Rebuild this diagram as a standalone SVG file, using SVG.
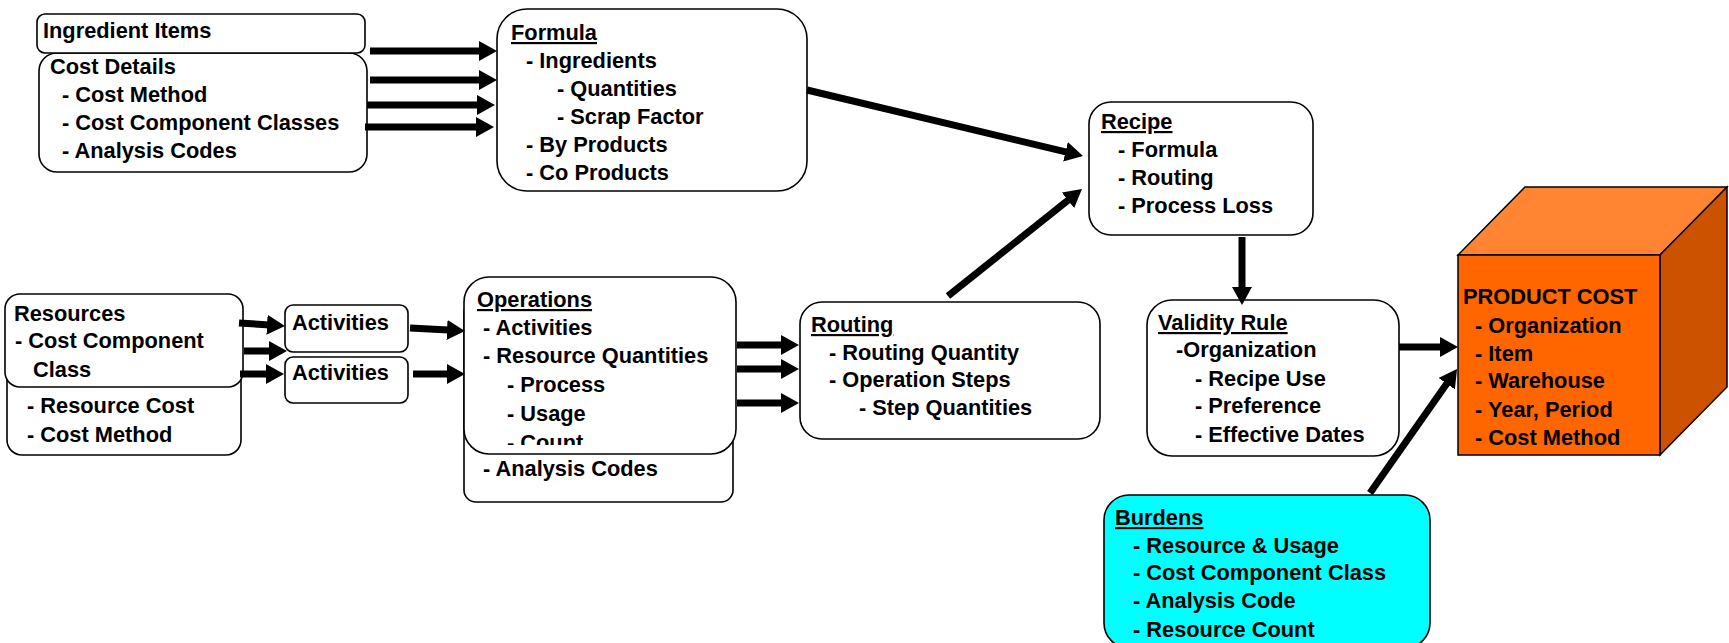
<svg xmlns="http://www.w3.org/2000/svg" width="1729" height="643" viewBox="0 0 1729 643">
<style>
.box{fill:#fff;stroke:#000;stroke-width:1.6}
.t{font-family:"Liberation Sans",Arial,sans-serif;font-weight:bold;font-size:21.8px;fill:#000}
.u{text-decoration:underline}
.conn path{stroke:#000;stroke-width:7;fill:none;marker-end:url(#ah)}
</style>
<defs>
<marker id="ah" markerUnits="userSpaceOnUse" viewBox="0 0 18 20" markerWidth="18" markerHeight="20" refX="11" refY="10" orient="auto"><path d="M0,0 L18,10 L0,20 z" fill="#000"/></marker>
<clipPath id="opclip"><rect x="464" y="277" width="272" height="168"/></clipPath>
</defs>
<rect width="1729" height="643" fill="#fff"/>

<g id="ingredients">
<rect class="box" x="39" y="53" width="328" height="119" rx="18"/>
<rect class="box" x="37" y="14" width="328" height="39" rx="8"/>
<text class="t" x="43" y="38">Ingredient Items</text>
<text class="t" x="50" y="74">Cost Details</text>
<text class="t" x="62" y="102">- Cost Method</text>
<text class="t" x="62" y="130">- Cost Component Classes</text>
<text class="t" x="62" y="158">- Analysis Codes</text>
</g>

<g id="formula">
<rect class="box" x="497" y="9" width="310" height="182" rx="30"/>
<text class="t u" x="511" y="40">Formula</text>
<text class="t" x="526" y="68">- Ingredients</text>
<text class="t" x="557" y="96">- Quantities</text>
<text class="t" x="557" y="124">- Scrap Factor</text>
<text class="t" x="526" y="152">- By Products</text>
<text class="t" x="526" y="180">- Co Products</text>
</g>

<g id="recipe">
<rect class="box" x="1089" y="102" width="224" height="133" rx="22"/>
<text class="t u" x="1101" y="129">Recipe</text>
<text class="t" x="1118" y="157">- Formula</text>
<text class="t" x="1118" y="185">- Routing</text>
<text class="t" x="1118" y="213">- Process Loss</text>
</g>

<g id="resources">
<rect class="box" x="7" y="300" width="234" height="155" rx="15"/>
<rect class="box" x="5" y="294" width="238" height="93" rx="15"/>
<text class="t" x="14" y="321">Resources</text>
<text class="t" x="15" y="348">- Cost Component</text>
<text class="t" x="33" y="377">Class</text>
<text class="t" x="27" y="413">- Resource Cost</text>
<text class="t" x="27" y="442">- Cost Method</text>
</g>

<g id="activities1">
<rect class="box" x="285" y="305" width="123" height="47" rx="8"/>
<text class="t" x="292" y="330">Activities</text>
</g>
<g id="activities2">
<rect class="box" x="285" y="357" width="123" height="46" rx="8"/>
<text class="t" x="292" y="380">Activities</text>
</g>

<g id="operations">
<rect class="box" x="464" y="300" width="269" height="202" rx="12"/>
<rect class="box" x="464" y="277" width="272" height="177" rx="25"/>
<text class="t u" x="477" y="307">Operations</text>
<text class="t" x="483" y="335">- Activities</text>
<text class="t" x="483" y="363">- Resource Quantities</text>
<text class="t" x="507" y="392">- Process</text>
<text class="t" x="507" y="421">- Usage</text>
<text class="t" x="507" y="450" clip-path="url(#opclip)">- Count</text>
<text class="t" x="483" y="476">- Analysis Codes</text>
</g>

<g id="routing">
<rect class="box" x="800" y="302" width="300" height="137" rx="22"/>
<text class="t u" x="811" y="332">Routing</text>
<text class="t" x="829" y="360">- Routing Quantity</text>
<text class="t" x="829" y="387">- Operation Steps</text>
<text class="t" x="859" y="415">- Step Quantities</text>
</g>

<g id="validity">
<rect class="box" x="1147" y="300" width="252" height="156" rx="25"/>
<text class="t u" x="1158" y="330">Validity Rule</text>
<text class="t" x="1176" y="357">-Organization</text>
<text class="t" x="1195" y="386">- Recipe Use</text>
<text class="t" x="1195" y="413">- Preference</text>
<text class="t" x="1195" y="442">- Effective Dates</text>
</g>

<g id="productcost">
<polygon points="1458,255 1525,187 1727,187 1660,255" fill="#FF8533" stroke="#000" stroke-width="1.5"/>
<polygon points="1660,255 1727,187 1727,387 1660,455" fill="#CC5200" stroke="#000" stroke-width="1.5"/>
<rect x="1458" y="255" width="202" height="200" fill="#FF6600" stroke="#000" stroke-width="1.5"/>
<text class="t" x="1463" y="304">PRODUCT COST</text>
<text class="t" x="1475" y="333">- Organization</text>
<text class="t" x="1475" y="361">- Item</text>
<text class="t" x="1475" y="388">- Warehouse</text>
<text class="t" x="1475" y="417">- Year, Period</text>
<text class="t" x="1475" y="445">- Cost Method</text>
</g>

<g id="burdens">
<rect x="1104" y="495" width="326" height="153" rx="25" fill="#00FFFF" stroke="#000" stroke-width="1.6"/>
<text class="t u" x="1115" y="525">Burdens</text>
<text class="t" x="1133" y="553">- Resource &amp; Usage</text>
<text class="t" x="1133" y="580">- Cost Component Class</text>
<text class="t" x="1133" y="608">- Analysis Code</text>
<text class="t" x="1133" y="637">- Resource Count</text>
</g>

<g id="connectors" class="conn">
<path d="M370,51 H490"/>
<path d="M370,80 H490"/>
<path d="M367,105 H488"/>
<path d="M365,127 H487"/>
<path d="M807,90 L1076.2,154.4"/>
<path d="M948,296 L1076.5,193.4"/>
<path d="M239,323 L278,325.5"/>
<path d="M244,351 H280"/>
<path d="M240,374 H277"/>
<path d="M410,328 L458,330.6"/>
<path d="M413,374 H458"/>
<path d="M737,345 H792"/>
<path d="M737,369 H792"/>
<path d="M737,403 H792"/>
<path d="M1242,237 V298"/>
<path d="M1399,347 H1451"/>
<path d="M1370,493 L1453,374.7"/>
</g>
</svg>
